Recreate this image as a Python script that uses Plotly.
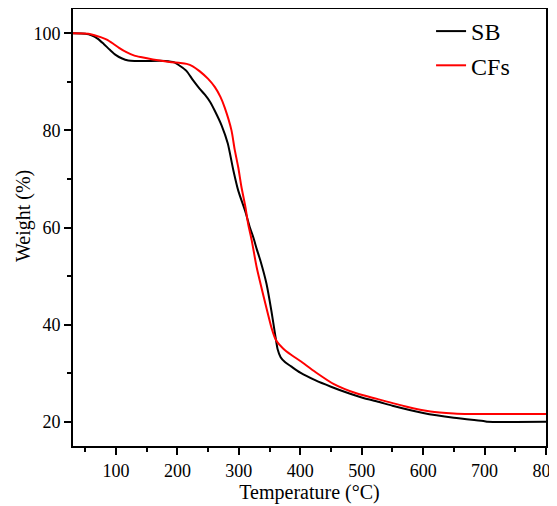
import plotly.graph_objects as go

# SB (black) TGA curve
sb_temp = [30, 50, 60, 70, 80, 90, 100, 110, 120, 130, 150, 180, 195, 205, 215, 225,
           236, 245, 253, 261, 272, 282, 291, 299, 310, 318, 324, 329, 335, 345, 353,
           359, 363, 368, 375, 385, 400, 425, 450, 480, 500, 530, 550, 600, 650, 700, 705, 800]
sb_weight = [100, 99.9, 99.6, 98.9, 97.8, 96.6, 95.5, 94.8, 94.4, 94.3, 94.3, 94.3, 94.0,
             93.2, 92.2, 90.4, 88.6, 87.3, 85.9, 84.0, 81.0, 77.3, 71.8, 67.6, 63.5, 60.0,
             57.8, 55.6, 53.2, 48.4, 42.8, 38.0, 35.0, 33.3, 32.3, 31.4, 30.1, 28.5, 27.2,
             25.8, 25.0, 24.0, 23.3, 21.8, 20.8, 20.1, 20.0, 20.0]

# CFs (red) TGA curve
cf_temp = [30, 55, 65, 75, 85, 95, 105, 117, 130, 140, 160, 187, 205, 215, 225, 236, 250,
           261, 270, 277, 288, 293, 299, 304, 311, 315, 321, 329, 342, 353, 358, 362, 372, 385,
           400, 425, 454, 490, 525, 570, 612, 650, 675, 800]
cf_weight = [100, 99.9, 99.6, 99.2, 98.7, 97.9, 97.0, 96.1, 95.4, 95.1, 94.6, 94.1, 93.9,
             93.7, 93.2, 92.2, 90.6, 88.9, 86.9, 84.7, 80.0, 76.2, 72.4, 68.5, 64.0, 60.8, 57.3,
             51.8, 44.9, 39.4, 37.5, 36.5, 35.1, 33.8, 32.5, 30.2, 27.8, 25.9, 24.7, 23.2,
             22.1, 21.7, 21.6, 21.6]

x_ticks = [100, 200, 300, 400, 500, 600, 700, 800]
y_ticks = [20, 40, 60, 80, 100]

FONT = "Liberation Serif"

fig = go.Figure()
fig.add_trace(go.Scatter(x=sb_temp, y=sb_weight, mode="lines", name="SB",
                         line=dict(color="black", width=2, shape="spline", smoothing=0.6)))
fig.add_trace(go.Scatter(x=cf_temp, y=cf_weight, mode="lines", name="CFs",
                         line=dict(color="#ff0000", width=2, shape="spline", smoothing=0.6)))

axis_common = dict(
    showline=True, linecolor="black", linewidth=2, mirror=True,
    ticks="outside", ticklen=7, tickwidth=1.5, tickcolor="black",
    showgrid=False, zeroline=False,
    tickfont=dict(family=FONT, size=18, color="black"),
    ticklabeloverflow="allow",
    minor=dict(ticks="outside", ticklen=4, tickwidth=1.5, tickcolor="black", showgrid=False),
)

fig.update_xaxes(range=[30, 800], tickvals=x_ticks,
                 title=dict(text="Temperature (°C)", font=dict(family=FONT, size=20, color="black"), standoff=4),
                 minor_dtick=50, minor_tick0=0, **axis_common)
fig.update_yaxes(range=[15, 105], tickvals=y_ticks,
                 minor_dtick=10, minor_tick0=0, **axis_common)

fig.add_annotation(text="Weight (%)", xref="paper", yref="paper", x=-0.106, y=0.526,
                   xanchor="center", yanchor="middle", textangle=-90, showarrow=False,
                   font=dict(family=FONT, size=20, color="black"))

fig.update_layout(
    width=549, height=498,
    margin=dict(l=65, r=11, t=1, b=60, autoexpand=False),
    paper_bgcolor="white", plot_bgcolor="white",
    font=dict(family=FONT, color="black"),
    showlegend=True,
    legend=dict(x=0.757, xanchor="left", y=1.0, yanchor="top",
                font=dict(family=FONT, size=24, color="black"),
                bgcolor="rgba(0,0,0,0)", borderwidth=0, tracegroupgap=0),
)

fig.write_html("out.html")
